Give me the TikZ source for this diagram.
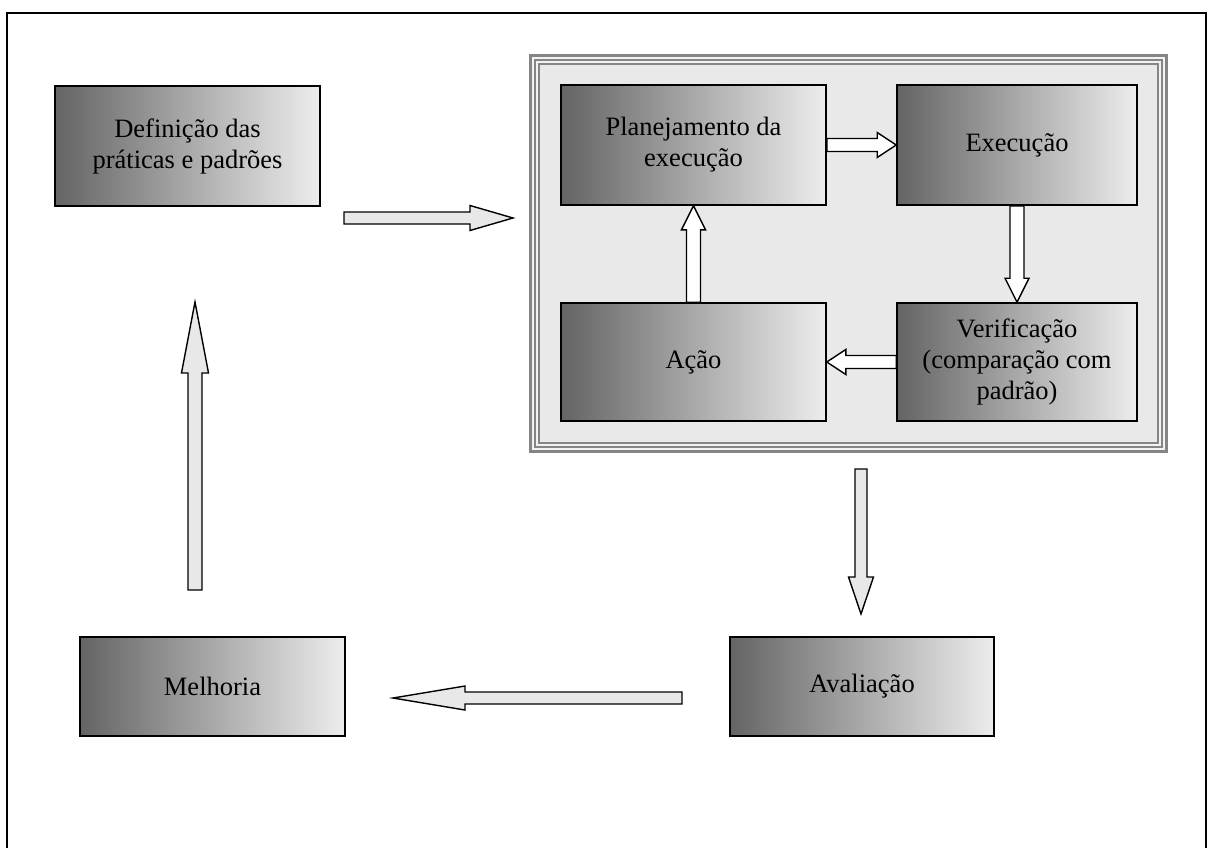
\documentclass[tikz,border=0pt]{standalone}
\usepackage{fontspec}
\setmainfont{Liberation Serif}
\usetikzlibrary{calc}
\definecolor{boxdark}{HTML}{646464}
\definecolor{boxlight}{HTML}{EDEDED}
\definecolor{framegray}{HTML}{858585}
\definecolor{framelight}{HTML}{F2F2F2}
\definecolor{framefill}{HTML}{E9E9E9}
\definecolor{arrowfill}{HTML}{E8E8E8}
\tikzset{
  stagebox/.style={draw=black, line width=1.6pt, left color=boxdark, right color=boxlight,
    align=center, inner sep=0pt, font=\fontsize{26.5}{31}\selectfont},
  blockarrow/.style={draw=black, line width=1.4pt, line join=miter, fill=arrowfill},
  innerarrow/.style={blockarrow, fill=white},
}
% block arrow: from, to, shaft half width, head half width, head length, style
\newcommand\blockarrow[6]{%
  \coordinate (ba-h) at ($(#2)!#5!(#1)$);
  \draw[#6] ($(#1)!#3!90:(#2)$) -- ($(ba-h)!#3!-90:(#1)$) -- ($(ba-h)!#4!-90:(#1)$)
    -- (#2) -- ($(ba-h)!#4!90:(#1)$) -- ($(ba-h)!#3!90:(#1)$) -- ($(#1)!#3!-90:(#2)$) -- cycle;}
\begin{document}
\begin{tikzpicture}[x=1pt, y=-1pt]
\useasboundingbox (0,0) rectangle (1208,848);
% page border, open at the bottom
\draw[line width=2.2pt] (7,850) -- (7,13) -- (1206,13) -- (1206,850);

% triple-lined frame around the control cycle
\fill[framegray]  (529,54)   rectangle (1168,453);
\fill[framelight] (531.7,56.7) rectangle (1165.3,450.3);
\fill[framegray]  (534,59)   rectangle (1163,448);
\fill[framelight] (536,61)   rectangle (1161,446);
\fill[framegray]  (537.7,62.7) rectangle (1159.3,444.3);
\fill[framefill]  (540,65)   rectangle (1157,442);
\node (frame) [minimum width=639pt, minimum height=399pt, inner sep=0pt] at (848.5,253.5) {};

% stages inside the frame
\node (plan) [stagebox, minimum width=265pt, minimum height=120pt] at (693.5,145) {Planejamento da\\execução};
\node (exec) [stagebox, minimum width=240pt, minimum height=120pt] at (1017,145) {Execução};
\node (acao) [stagebox, minimum width=265pt, minimum height=118pt] at (693.5,362) {Ação};
\node (verif) [stagebox, minimum width=240pt, minimum height=118pt] at (1017,362) {Verificação\\(comparação com\\padrão)};

% outer stages
\node (def) [stagebox, minimum width=265pt, minimum height=120pt] at (187.5,146) {Definição das\\práticas e padrões};
\node (melh) [stagebox, minimum width=265pt, minimum height=99pt] at (212.5,686.5) {Melhoria};
\node (aval) [stagebox, minimum width=264pt, minimum height=99pt] at (862,686.5) {Avaliação};

% arrows inside the frame
\coordinate (pe1) at (plan.east);
\coordinate (pe2) at (exec.west);
\blockarrow{pe1}{pe2}{6.5pt}{12.5pt}{19pt}{innerarrow}
\coordinate (ev1) at (exec.south);
\coordinate (ev2) at (exec.south |- verif.north);
\blockarrow{ev1}{ev2}{7pt}{12pt}{24pt}{innerarrow}
\coordinate (va1) at (verif.west);
\coordinate (va2) at (acao.east);
\blockarrow{va1}{va2}{6.5pt}{12.5pt}{19pt}{innerarrow}
\coordinate (ap1) at (acao.north);
\coordinate (ap2) at (plan.south);
\blockarrow{ap1}{ap2}{7pt}{12pt}{24pt}{innerarrow}

% arrows of the outer cycle
\coordinate (df1) at (344,218);
\coordinate (df2) at (513,218);
\blockarrow{df1}{df2}{6pt}{12.5pt}{43pt}{blockarrow}
\coordinate (fa1) at (861,469);
\coordinate (fa2) at (861,614);
\blockarrow{fa1}{fa2}{6pt}{12.5pt}{37pt}{blockarrow}
\coordinate (am1) at (682,698);
\coordinate (am2) at (393,698);
\blockarrow{am1}{am2}{6pt}{12pt}{72pt}{blockarrow}
\coordinate (md1) at (195,590);
\coordinate (md2) at (195,302);
\blockarrow{md1}{md2}{7pt}{13.5pt}{71pt}{blockarrow}
\end{tikzpicture}
\end{document}
